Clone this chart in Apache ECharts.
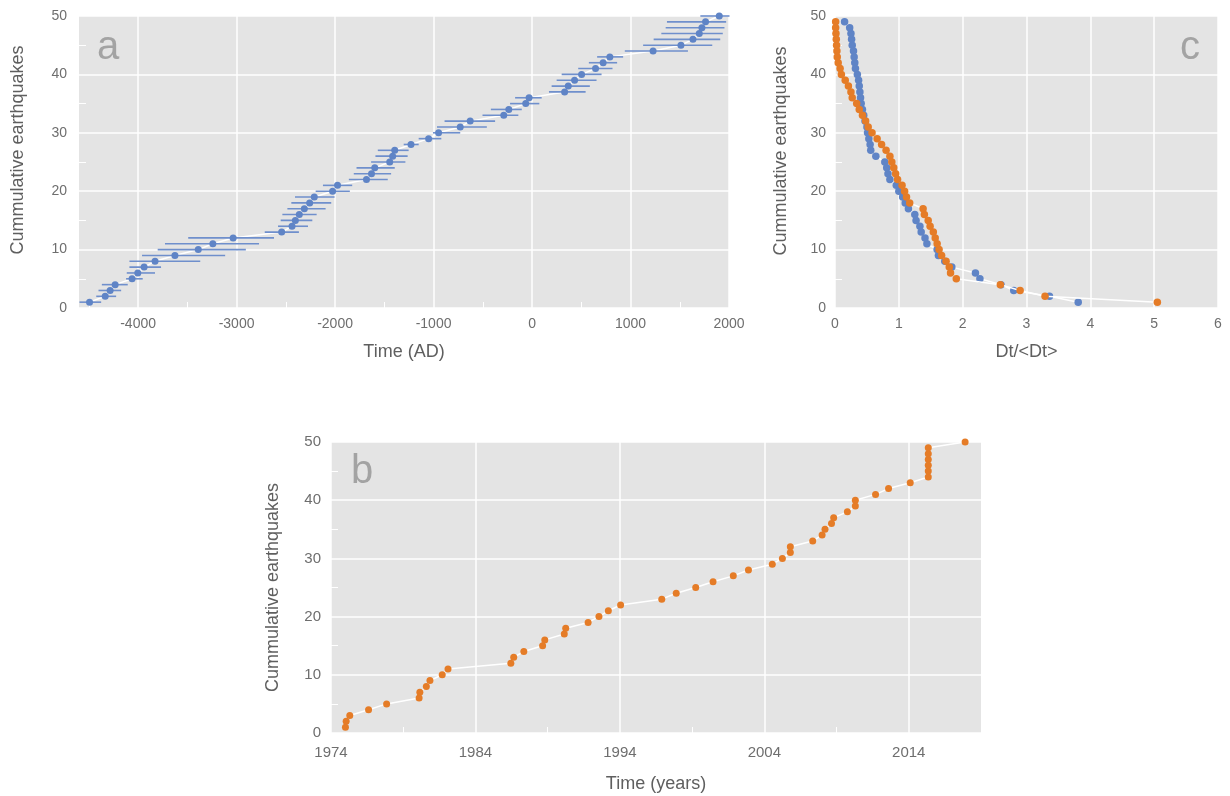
<!DOCTYPE html>
<html><head><meta charset="utf-8">
<script src="https://cdn.jsdelivr.net/npm/echarts@6/dist/echarts.min.js"></script>
<style>html,body{margin:0;padding:0;background:#fff}#c{width:1230px;height:796px}</style>
</head><body><div id="c"></div>
<script>
// ---------- Panel a: paleo-earthquakes (Time AD) with horizontal error bars ----------
const aCount = [1,2,3,4,5,6,7,8,9,10,11,12,13,14,15,16,17,18,19,20,21,22,23,24,25,26,27,28,29,30,31,32,33,34,35,36,37,38,39,40,41,42,43,44,45,46,47,48,49,50];
const aTime = [-4493,-4334,-4284,-4233,-4061,-4003,-3939,-3828,-3626,-3389,-3241,-3035,-2542,-2437,-2403,-2363,-2312,-2258,-2211,-2025,-1975,-1681,-1630,-1597,-1445,-1415,-1394,-1229,-1050,-949,-729,-628,-287,-236,-64,-30,331,368,432,503,645,722,790,1229,1512,1634,1698,1725,1762,1901];
const aLow = [-4595,-4425,-4402,-4368,-4122,-4115,-4088,-4088,-3960,-3801,-3727,-3491,-2714,-2579,-2552,-2535,-2484,-2444,-2407,-2197,-2123,-1860,-1810,-1782,-1634,-1590,-1566,-1303,-1151,-1006,-965,-888,-503,-418,-223,-172,172,199,250,301,469,577,661,942,1128,1235,1313,1357,1370,1709];
const aHigh = [-4375,-4223,-4172,-4105,-3953,-3828,-3767,-3369,-3116,-2906,-2772,-2620,-2367,-2275,-2231,-2187,-2096,-2039,-2005,-1850,-1826,-1465,-1431,-1394,-1286,-1263,-1253,-1151,-921,-729,-459,-375,-139,-104,74,98,544,587,655,706,817,864,925,1583,1830,1911,1937,1954,1971,2005];
const aTicks = [-4000,-3000,-2000,-1000,0,1000,2000];
const aMinorTicks = [-4500,-3500,-2500,-1500,-500,500,1500];

// ---------- Panel b: instrumental earthquakes (Time years) ----------
const bCount = [1,2,3,4,5,6,7,8,9,10,11,12,13,14,15,16,17,18,19,20,21,22,23,24,25,26,27,28,29,30,31,32,33,34,35,36,37,38,39,40,41,42,43,44,45,46,47,48,49,50];
const bYear = [1975.0,1975.05,1975.3,1976.6,1977.85,1980.1,1980.15,1980.6,1980.85,1981.7,1982.1,1986.45,1986.65,1987.35,1988.65,1988.8,1990.15,1990.25,1991.8,1992.55,1993.2,1994.05,1996.9,1997.9,1999.25,2000.45,2001.85,2002.9,2004.55,2005.25,2005.8,2005.8,2007.35,2008.0,2008.2,2008.65,2008.8,2009.75,2010.3,2010.3,2011.7,2012.6,2014.1,2015.35,2015.35,2015.35,2015.35,2015.35,2015.35,2017.9];
const bTicks = [1974,1984,1994,2004,2014];
const bMinorTicks = [1979,1989,1999,2009];

// ---------- Panel c: normalised inter-event times Dt/<Dt> ----------
const cCount = [1,2,3,4,5,6,7,8,9,10,11,12,13,14,15,16,17,18,19,20,21,22,23,24,25,26,27,28,29,30,31,32,33,34,35,36,37,38,39,40,41,42,43,44,45,46,47,48,49];
const cBlue = [3.81,3.36,2.8,2.6,2.27,2.2,1.83,1.72,1.62,1.6,1.44,1.41,1.35,1.33,1.27,1.25,1.15,1.1,1.06,1.0,0.96,0.86,0.83,0.81,0.78,0.64,0.56,0.55,0.53,0.51,0.5,0.47,0.45,0.43,0.41,0.4,0.39,0.38,0.37,0.35,0.32,0.31,0.3,0.29,0.27,0.26,0.25,0.23,0.15];
const cOrange = [5.05,3.29,2.9,2.59,1.9,1.81,1.79,1.74,1.67,1.63,1.6,1.57,1.54,1.49,1.46,1.4,1.38,1.17,1.12,1.09,1.05,0.98,0.95,0.92,0.89,0.86,0.8,0.73,0.66,0.58,0.52,0.48,0.43,0.38,0.34,0.27,0.25,0.21,0.16,0.1,0.08,0.05,0.035,0.03,0.025,0.02,0.015,0.01,0.01];

const BLUE = '#5f84c6', BLUE_BAR = '#6f8fcc', ORANGE = '#e57c27';
const PLOT_BG = '#e4e4e4', LABEL = '#6e6e6e', NAME = '#5f5f5f';
const FONT = "'Liberation Sans', Arial, sans-serif";
const plain = v => String(v);

const pairs = (xs, ys) => xs.map((x, i) => [x, ys[i]]);

function yAxisCfg(grid, fs, margin, gap, pad) {
  return {
    gridIndex: grid, type: 'value', min: 0, max: 50, interval: 10,
    name: 'Cummulative earthquakes', nameLocation: 'middle', nameGap: gap,
    nameTextStyle: { color: NAME, fontSize: 18, fontFamily: FONT, padding: pad },
    axisLine: { show: false, onZero: false }, axisTick: { show: false, inside: true },
    minorTick: { show: true, splitNumber: 2, length: 7, lineStyle: { color: '#ffffff', width: 1 } },
    axisLabel: { color: LABEL, fontSize: fs, fontFamily: FONT, margin: margin, formatter: plain },
    splitLine: { show: true, lineStyle: { color: '#ffffff', width: 1.5 } }
  };
}

const option = {
  backgroundColor: '#ffffff',
  animation: false,
  grid: [
    { left: 79, top: 16, width: 650, height: 292, show: true, backgroundColor: PLOT_BG, borderWidth: 0, containLabel: false, outerBoundsMode: 'none' },
    { left: 835, top: 16, width: 383, height: 292, show: true, backgroundColor: PLOT_BG, borderWidth: 0, containLabel: false, outerBoundsMode: 'none' },
    { left: 331, top: 442, width: 650, height: 291, show: true, backgroundColor: PLOT_BG, borderWidth: 0, containLabel: false, outerBoundsMode: 'none' }
  ],
  xAxis: [
    { gridIndex: 0, type: 'value', min: -4600, max: 2000,
      name: 'Time (AD)', nameLocation: 'middle', nameGap: 35,
      nameTextStyle: { color: NAME, fontSize: 18, fontFamily: FONT },
      axisLine: { show: false, onZero: false }, axisTick: { show: false, customValues: aTicks },
      axisLabel: { color: LABEL, fontSize: 14, fontFamily: FONT, margin: 9, customValues: aTicks, formatter: plain },
      splitLine: { show: true, lineStyle: { color: '#ffffff', width: 1.5 } } },
    { gridIndex: 0, type: 'value', min: -4600, max: 2000, position: 'bottom',
      axisLine: { show: false, onZero: false }, axisLabel: { show: false }, splitLine: { show: false },
      axisTick: { show: true, inside: true, length: 6, customValues: aMinorTicks, lineStyle: { color: '#ffffff', width: 1 } } },
    { gridIndex: 1, type: 'value', min: 0, max: 6, interval: 1,
      name: 'Dt/<Dt>', nameLocation: 'middle', nameGap: 35,
      nameTextStyle: { color: NAME, fontSize: 18, fontFamily: FONT },
      axisLine: { show: false, onZero: false }, axisTick: { show: false },
      axisLabel: { color: LABEL, fontSize: 14, fontFamily: FONT, margin: 9, formatter: plain },
      splitLine: { show: true, lineStyle: { color: '#ffffff', width: 1.5 } } },
    { gridIndex: 2, type: 'value', min: 1974, max: 2019,
      name: 'Time (years)', nameLocation: 'middle', nameGap: 42,
      nameTextStyle: { color: NAME, fontSize: 18, fontFamily: FONT },
      axisLine: { show: false, onZero: false }, axisTick: { show: false, customValues: bTicks },
      axisLabel: { color: LABEL, fontSize: 15, fontFamily: FONT, margin: 12, customValues: bTicks, formatter: plain },
      splitLine: { show: true, lineStyle: { color: '#ffffff', width: 1.5 } } },
    { gridIndex: 2, type: 'value', min: 1974, max: 2019, position: 'bottom',
      axisLine: { show: false, onZero: false }, axisLabel: { show: false }, splitLine: { show: false },
      axisTick: { show: true, inside: true, length: 6, customValues: bMinorTicks, lineStyle: { color: '#ffffff', width: 1 } } }
  ],
  yAxis: [
    yAxisCfg(0, 14, 12, 52, [0, 0, 0, 24]),
    yAxisCfg(1, 14, 9, 45, [0, 0, 0, 22]),
    yAxisCfg(2, 15, 10, 49, [0, 0, 0, 0])
  ],
  graphic: [
    { type: 'text', left: 97, top: 28, style: { text: 'a', fontSize: 40, fontFamily: FONT, fill: '#a3a3a3' }, z: 100 },
    { type: 'text', left: 1180, top: 28, style: { text: 'c', fontSize: 40, fontFamily: FONT, fill: '#a3a3a3' }, z: 100 },
    { type: 'text', left: 351, top: 452, style: { text: 'b', fontSize: 40, fontFamily: FONT, fill: '#a3a3a3' }, z: 100 }
  ],
  series: [
    // panel a
    { type: 'line', xAxisIndex: 0, yAxisIndex: 0, data: pairs(aTime, aCount), symbol: 'none',
      lineStyle: { color: '#ffffff', width: 1.5 }, z: 2, silent: true },
    { type: 'custom', xAxisIndex: 0, yAxisIndex: 0, z: 3,
      data: aLow.map((lo, i) => [lo, aHigh[i], aCount[i]]),
      encode: { x: [0, 1], y: 2 },
      renderItem: function (params, api) {
        const p1 = api.coord([api.value(0), api.value(2)]);
        const p2 = api.coord([api.value(1), api.value(2)]);
        return { type: 'line', shape: { x1: p1[0], y1: p1[1], x2: p2[0], y2: p2[1] },
                 style: { stroke: BLUE_BAR, lineWidth: 1.6 } };
      } },
    { type: 'scatter', xAxisIndex: 0, yAxisIndex: 0, data: pairs(aTime, aCount), symbolSize: 7,
      itemStyle: { color: BLUE, opacity: 1 }, z: 4 },
    // panel c
    { type: 'line', xAxisIndex: 2, yAxisIndex: 1, data: pairs(cBlue, cCount), symbol: 'circle', symbolSize: 7.5,
      showAllSymbol: true, lineStyle: { color: '#ffffff', width: 1.5 }, itemStyle: { color: BLUE, borderWidth: 0 }, z: 3 },
    { type: 'line', xAxisIndex: 2, yAxisIndex: 1, data: pairs(cOrange, cCount), symbol: 'circle', symbolSize: 7.5,
      showAllSymbol: true, lineStyle: { color: '#ffffff', width: 1.5 }, itemStyle: { color: ORANGE, borderWidth: 0 }, z: 4 },
    // panel b
    { type: 'line', xAxisIndex: 3, yAxisIndex: 2, data: pairs(bYear, bCount), symbol: 'circle', symbolSize: 7,
      showAllSymbol: true, lineStyle: { color: '#ffffff', width: 1.5 }, itemStyle: { color: ORANGE, borderWidth: 0 }, z: 3 }
  ]
};

const chart = echarts.init(document.getElementById('c'), null, { renderer: 'canvas' });
chart.setOption(option);
</script>
</body></html>
